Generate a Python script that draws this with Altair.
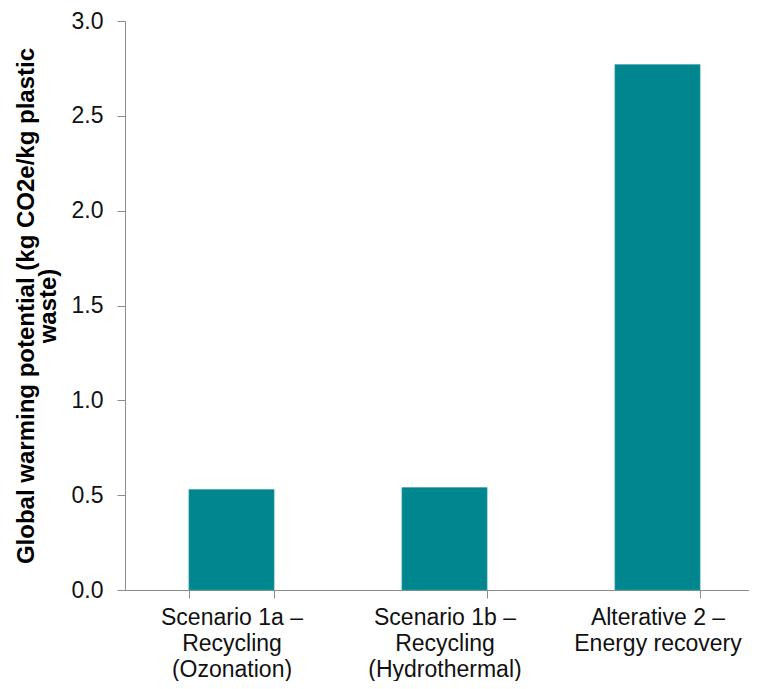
import altair as alt
import pandas as pd

categories = [
    "Scenario 1a –|Recycling|(Ozonation)",
    "Scenario 1b –|Recycling|(Hydrothermal)",
    "Alterative 2 –|Energy recovery",
]
values = [0.53, 0.54, 2.77]
y_ticks = [0.0, 0.5, 1.0, 1.5, 2.0, 2.5, 3.0]

df = pd.DataFrame({"cat": categories, "gwp": values})

FONT = "Liberation Sans"
AXIS_COLOR = "#8c8c8c"

chart = (
    alt.Chart(df)
    .mark_bar(color="#00868F", stroke="#3aa3aa", strokeWidth=0.6)
    .encode(
        x=alt.X(
            "cat:N",
            sort=categories,
            scale=alt.Scale(range=[0, 639], paddingInner=0.6, paddingOuter=0.3),
            axis=alt.Axis(
                title=None,
                labelAngle=0,
                labelExpr="isValid(datum.value) ? split(datum.value, '|') : ''",
                labelFont=FONT,
                labelFontSize=23,
                labelLineHeight=26,
                labelColor="#111111",
                labelPadding=8,
                tickBand="extent",
                tickSize=8,
                tickColor=AXIS_COLOR,
                domainColor=AXIS_COLOR,
                labelOverlap=False,
            ),
        ),
        y=alt.Y(
            "gwp:Q",
            scale=alt.Scale(domain=[0, 3], nice=False),
            axis=alt.Axis(
                title=["Global warming potential (kg CO2e/kg plastic", "waste)"],
                titleFont=FONT,
                titleFontSize=24,
                titleFontWeight="bold",
                titleLineHeight=22,
                titleColor="#000000",
                titleAngle=-90,
                titleBaseline="alphabetic",
                titleX=-92,
                values=y_ticks,
                format=".1f",
                grid=False,
                labelFont=FONT,
                labelFontSize=23,
                labelColor="#111111",
                labelPadding=14,
                tickSize=8,
                tickColor=AXIS_COLOR,
                domainColor=AXIS_COLOR,
            ),
        ),
    )
    .properties(
        width=624,
        height=569,
        autosize=alt.AutoSizeParams(type="none"),
        padding={"left": 117, "top": 13, "right": 0, "bottom": 91},
    )
    .configure_view(stroke=None)
)

chart.save("out.html", embed_options={"renderer": "svg", "actions": False})
